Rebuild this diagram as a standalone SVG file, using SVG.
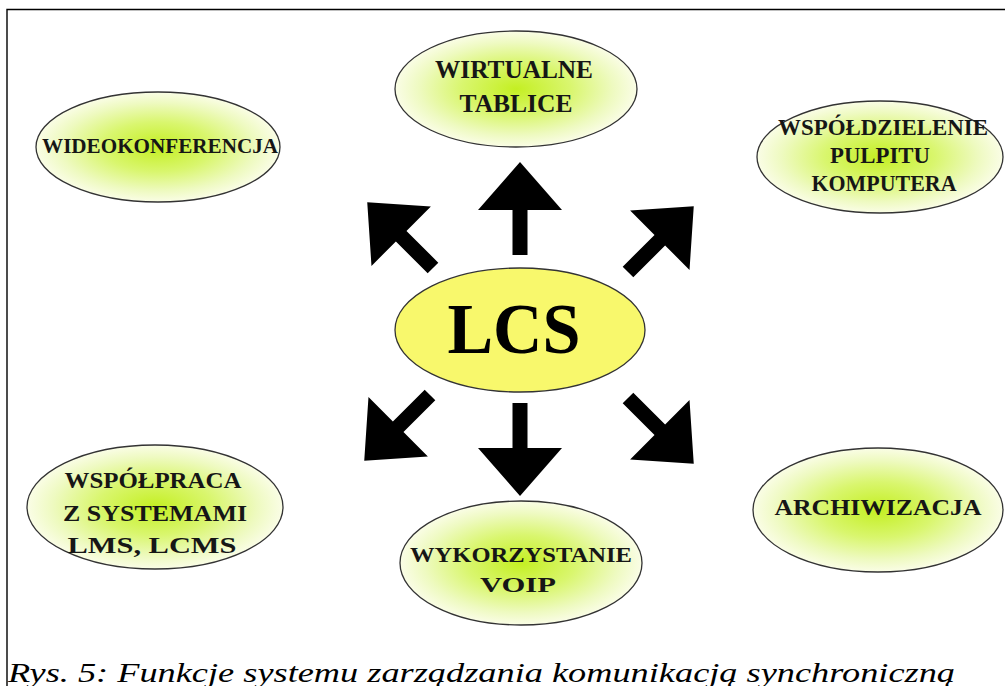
<svg xmlns="http://www.w3.org/2000/svg" width="1005" height="686" viewBox="0 0 1005 686">
<defs>
<radialGradient id="g" cx="0.5" cy="0.5" r="0.5">
<stop offset="0" stop-color="#c4ef22"/>
<stop offset="0.45" stop-color="#d9f66e"/>
<stop offset="0.8" stop-color="#eefac0"/>
<stop offset="1" stop-color="#fafde6"/>
</radialGradient>
<path id="arr" d="M0,-93 L42,-45 L7.5,-45 L7.5,0 L-7.5,0 L-7.5,-45 L-42,-45 Z"/>
</defs>
<style>
.n{fill:url(#g);stroke:#333;stroke-width:1.3}
.t{font-family:"Liberation Serif","Times New Roman",serif;font-weight:bold;fill:#161616;text-anchor:middle}
.a{fill:#000}
</style>
<rect width="1005" height="686" fill="#fff"/>
<path d="M7,686 V9.5 H1005" fill="none" stroke="#000" stroke-width="1.4"/>
<g id="connectors">
<use href="#arr" class="a" transform="translate(520,255)"/>
<use href="#arr" class="a" transform="translate(433,268) rotate(-45)"/>
<use href="#arr" class="a" transform="translate(628,272) rotate(45)"/>
<use href="#arr" class="a" transform="translate(430,395) rotate(-135)"/>
<use href="#arr" class="a" transform="translate(520,403) rotate(180)"/>
<use href="#arr" class="a" transform="translate(628,398) rotate(135)"/>
</g>
<g id="lcs">
<ellipse cx="520" cy="330" rx="125" ry="62" fill="#f8f86c" stroke="#333" stroke-width="1.3"/>
<text x="514" y="353" class="t" style="font-size:72px;fill:#000" textLength="133" lengthAdjust="spacingAndGlyphs">LCS</text>
</g>
<g id="wirtualne">
<ellipse class="n" cx="516" cy="89" rx="121" ry="58"/>
<text class="t" style="font-size:25px"><tspan x="514" y="78" textLength="158" lengthAdjust="spacingAndGlyphs">WIRTUALNE</tspan><tspan x="516" y="112" textLength="113" lengthAdjust="spacingAndGlyphs">TABLICE</tspan></text>
</g>
<g id="wideo">
<ellipse class="n" cx="158" cy="147" rx="122" ry="55"/>
<text x="160" y="153" class="t" style="font-size:20px" textLength="236" lengthAdjust="spacingAndGlyphs">WIDEOKONFERENCJA</text>
</g>
<g id="wspoldzielenie">
<ellipse class="n" cx="880" cy="157" rx="123" ry="56"/>
<text class="t" style="font-size:23px"><tspan x="883" y="135" textLength="210" lengthAdjust="spacingAndGlyphs">WSPÓŁDZIELENIE</tspan><tspan x="880" y="163" textLength="100" lengthAdjust="spacingAndGlyphs">PULPITU</tspan><tspan x="884" y="191" textLength="145" lengthAdjust="spacingAndGlyphs">KOMPUTERA</tspan></text>
</g>
<g id="wspolpraca">
<ellipse class="n" cx="155" cy="507" rx="128" ry="62"/>
<text class="t" style="font-size:24px"><tspan x="153" y="488" textLength="177" lengthAdjust="spacingAndGlyphs">WSPÓŁPRACA</tspan><tspan x="155" y="521" textLength="184" lengthAdjust="spacingAndGlyphs">Z SYSTEMAMI</tspan><tspan x="152" y="553" textLength="169" lengthAdjust="spacingAndGlyphs">LMS, LCMS</tspan></text>
</g>
<g id="voip">
<ellipse class="n" cx="521" cy="563" rx="121" ry="62"/>
<text class="t" style="font-size:22px"><tspan x="521" y="562" textLength="222" lengthAdjust="spacingAndGlyphs">WYKORZYSTANIE</tspan><tspan x="518" y="592" textLength="76" lengthAdjust="spacingAndGlyphs">VOIP</tspan></text>
</g>
<g id="archiwizacja">
<ellipse class="n" cx="878" cy="510" rx="125" ry="62"/>
<text x="878" y="515" class="t" style="font-size:23px" textLength="207" lengthAdjust="spacingAndGlyphs">ARCHIWIZACJA</text>
</g>
<text x="8" y="682" style="font-family:'Liberation Serif','Times New Roman',serif;font-style:italic;font-size:28px;fill:#000" textLength="947" lengthAdjust="spacingAndGlyphs">Rys. 5: Funkcje systemu zarządzania komunikacją synchroniczną</text>
</svg>
